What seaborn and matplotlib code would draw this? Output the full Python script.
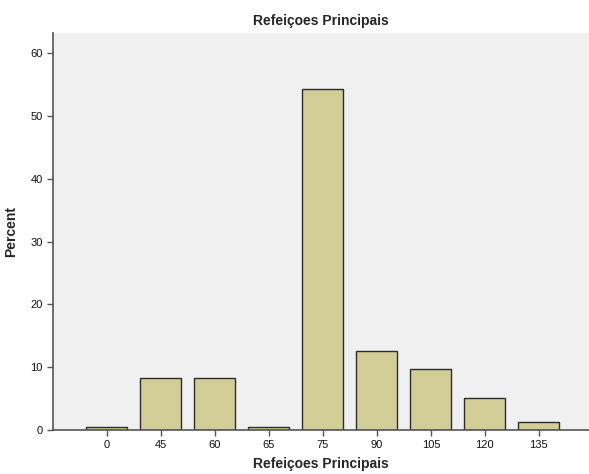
import matplotlib
matplotlib.use("Agg")
import matplotlib.pyplot as plt
import seaborn as sns
import pandas as pd

# data
categories = ["0", "45", "60", "65", "75", "90", "105", "120", "135"]
percent = [0.4, 8.3, 8.3, 0.4, 54.3, 12.6, 9.7, 5.1, 1.3]

df = pd.DataFrame({"cat": categories, "pct": percent})

sns.set_style("ticks")
plt.rcParams["font.family"] = ["Liberation Sans", "DejaVu Sans"]

fig = plt.figure(figsize=(5.89, 4.74), dpi=100)
ax = fig.add_axes([53 / 589, 44 / 474, 536 / 589, 397 / 474])
sns.barplot(data=df, x="cat", y="pct", order=categories, color="#D3CE97",
            saturation=1, width=0.76, edgecolor="#2b2b2b", linewidth=1.0, ax=ax)

ax.set_facecolor("#F0F0F0")
ax.set_xlim(-1, 8.93)
ax.set_ylim(0, 63.2)
ax.set_yticks([0, 10, 20, 30, 40, 50, 60])
ax.tick_params(labelsize=8, length=4, color="#555555", width=1, labelcolor="#111111")
for s in ["top", "right"]:
    ax.spines[s].set_visible(False)
for s in ["left", "bottom"]:
    ax.spines[s].set_color("#555555")
    ax.spines[s].set_linewidth(1.2)

ax.set_title("Refeiçoes Principais", fontsize=10, fontweight="bold", pad=6)
ax.set_xlabel("Refeiçoes Principais", fontsize=10, fontweight="bold", labelpad=5)
ax.set_ylabel("Percent", fontsize=10, fontweight="bold", labelpad=8)
ax.yaxis.set_label_coords(-0.065, 0.5)

fig.savefig("out.png", dpi=100)
